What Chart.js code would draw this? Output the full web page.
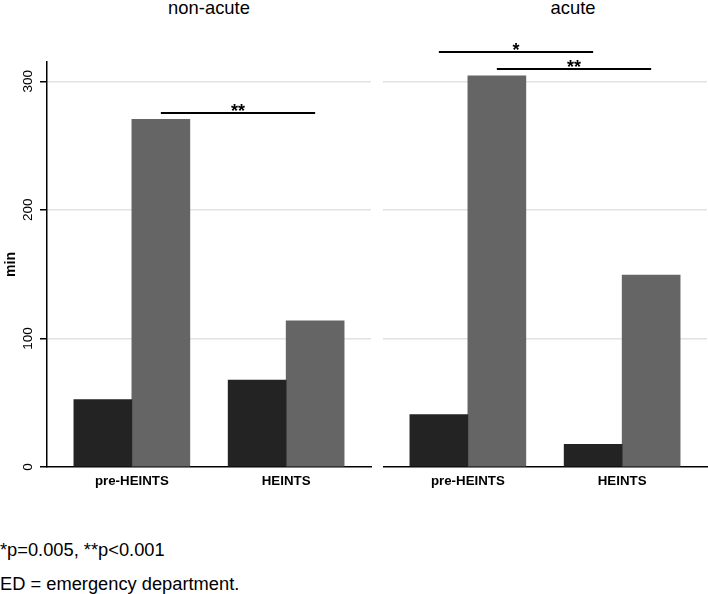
<!DOCTYPE html>
<html>
<head>
<meta charset="utf-8">
<script src="https://cdn.jsdelivr.net/npm/chart.js@4.4.1/dist/chart.umd.min.js"></script>
<style>
  html, body { margin: 0; padding: 0; background: #fff; }
  body { width: 708px; height: 594px; position: relative; overflow: hidden; font-family: "Liberation Sans", Arial, sans-serif; color: #000; }
  canvas { position: absolute; top: 0; }
  #nonAcute { left: 0; }
  #acute { left: 383px; }
  .panel-title { position: absolute; top: -2px; width: 200px; text-align: center; font-size: 18.4px; line-height: 20px; }
  .note { position: absolute; left: 0; font-size: 18.3px; line-height: 20px; white-space: nowrap; }
</style>
</head>
<body>
<div class="panel-title" style="left:109px">non-acute</div>
<div class="panel-title" style="left:473px">acute</div>
<canvas id="nonAcute" width="372" height="500"></canvas>
<canvas id="acute" width="325" height="500"></canvas>
<div class="note" style="top:540px">*p=0.005, **p&lt;0.001</div>
<div class="note" style="top:574px">ED = emergency department.</div>
<script>
const categories = ['pre-HEINTS', 'HEINTS'];
const nonAcuteDark = [52.5, 67.6];
const nonAcuteGrey = [270.5, 113.6];
const acuteDark = [40.8, 17.7];
const acuteGrey = [304.3, 149.2];
const yTicks = [0, 100, 200, 300];
const yMax = 315;

// significance lines: dataset (0 dark, 1 grey), the two categories joined, height in min
const nonAcuteSig = [{ ds: 1, from: 0, to: 1, y: 275.7, text: '**' }];
const acuteSig = [
  { ds: 0, from: 0, to: 1, y: 322.6, text: '*' },
  { ds: 1, from: 0, to: 1, y: 309.6, text: '**' }
];

const DARK = '#232323';
const GREY = '#656565';
const FONT = '"Liberation Sans", Arial, sans-serif';

const gridColor = c => (c.tick && c.tick.value === 0) ? 'rgba(0,0,0,0)' : '#e2e2e2';

const sigPlugin = {
  id: 'sig',
  afterDatasetsDraw(chart, args, opts) {
    const ctx = chart.ctx;
    const yScale = chart.scales.y;
    ctx.save();
    ctx.strokeStyle = '#000';
    ctx.fillStyle = '#000';
    ctx.lineWidth = 2;
    ctx.font = 'bold 18px ' + FONT;
    ctx.textAlign = 'center';
    ctx.textBaseline = 'alphabetic';
    (opts.items || []).forEach(s => {
      const bars = chart.getDatasetMeta(s.ds).data;
      const x1 = bars[s.from].x, x2 = bars[s.to].x;
      const py = Math.round(yScale.getPixelForValue(s.y));
      ctx.beginPath();
      ctx.moveTo(x1, py);
      ctx.lineTo(x2, py);
      ctx.stroke();
      ctx.fillText(s.text, (x1 + x2) / 2, py + 4);
    });
    ctx.restore();
  }
};

function panel(id, dark, grey, sig, withAxis) {
  const yScale = {
    min: 0,
    max: yMax,
    afterFit: s => { s.width = withAxis ? 47 : 0; },
    afterBuildTicks: s => { s.ticks = yTicks.map(v => ({ value: v })); },
    grid: { color: gridColor, lineWidth: 1.5, drawTicks: withAxis, tickColor: '#000', tickLength: 7, tickWidth: 1.5 },
    border: { display: withAxis, color: '#000', width: 1.5 },
    ticks: {
      display: withAxis,
      minRotation: 90,
      maxRotation: 90,
      crossAlign: 'center',
      padding: 0,
      color: '#000',
      font: { family: FONT, size: 13.5 }
    },
    title: {
      display: withAxis,
      text: 'min',
      color: '#000',
      font: { family: FONT, size: 14, weight: 'bold' },
      padding: { top: 3, bottom: 0 }
    }
  };

  return new Chart(document.getElementById(id), {
    type: 'bar',
    data: {
      datasets: [
        { label: 'dark', data: dark.map((v, i) => ({ x: i, y: v })), backgroundColor: DARK, barThickness: 58 },
        { label: 'grey', data: grey.map((v, i) => ({ x: i, y: v })), backgroundColor: GREY, barThickness: 58 }
      ]
    },
    options: {
      responsive: false,
      animation: false,
      devicePixelRatio: 1,
      layout: { padding: { top: 62, right: 1, left: 0, bottom: 0 } },
      plugins: {
        legend: { display: false },
        tooltip: { enabled: false },
        sig: { items: sig }
      },
      scales: {
        x: {
          type: 'linear',
          min: -0.55,
          max: 1.55,
          offset: false,
          afterFit: s => { s.height = 33; },
          afterBuildTicks: s => { s.ticks = categories.map((c, i) => ({ value: i })); },
          grid: { display: false, drawTicks: false, offset: false },
          border: { display: true, color: '#000', width: 1.5 },
          ticks: {
            callback: v => categories[v],
            autoSkip: false,
            maxRotation: 0,
            padding: 6,
            color: '#000',
            font: { family: FONT, size: 13.3, weight: 'bold' }
          }
        },
        y: yScale
      }
    },
    plugins: [sigPlugin]
  });
}

panel('nonAcute', nonAcuteDark, nonAcuteGrey, nonAcuteSig, true);
panel('acute', acuteDark, acuteGrey, acuteSig, false);
</script>
</body>
</html>
